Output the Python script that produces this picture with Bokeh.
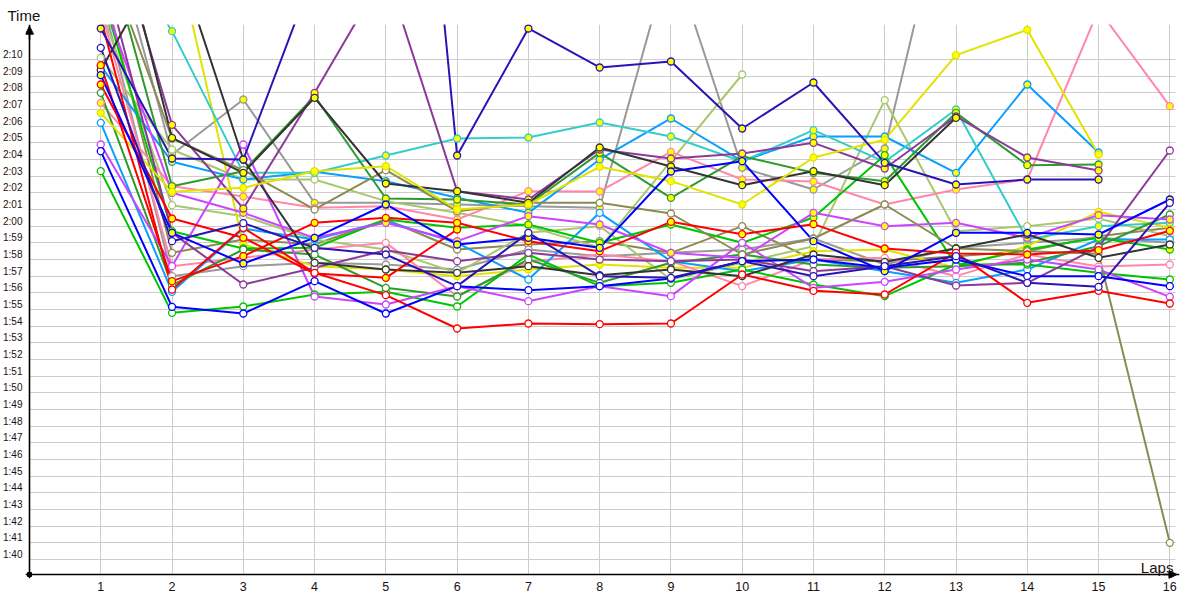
from bokeh.plotting import figure
from bokeh.models import (Range1d, FixedTicker, CustomJSTickFormatter, Label, Arrow,
                          NormalHead, Span, BoxAnnotation)
from bokeh.embed import file_html
from bokeh.resources import INLINE

laps = list(range(1, 17))
time_ticks = list(range(100, 131))  # 1:40 .. 2:10 in seconds

# lap times in seconds (values above 2:12 run off the top of the chart)
navy_a = [131.86, 124.06, 124.0, 135.3, 168.5, 124.24, 131.86, 129.52, 129.88, 125.86, 128.62, 123.8, 122.5, 122.8, 122.8]
purple_a = [140.6, 126.08, 121.06, 128.0, 135.3, 122.1, 121.6, 124.6, 124.06, 124.36, 125.0, 123.46, 126.58, 124.12, 123.34]
cyan_a = [138.5, 131.7, 123.2, 123.2, 124.24, 125.26, 125.32, 126.22, 125.38, 123.88, 125.76, 123.86, 127.0, 119.2, 120.0, 120.2]
sky_a = [129.6, 123.86, 122.8, 123.26, 122.7, 121.7, 120.8, 124.0, 126.46, 123.9, 125.38, 125.38, 123.2, 128.5, 124.42]
yellow_a = [126.8, 122.06, 122.3, 123.3, 123.6, 121.0, 121.3, 123.56, 122.7, 121.3, 124.12, 125.18, 130.26, 131.78, 124.3]
gray_a = [140.0, 124.3, 127.6, 121.4, 121.4, 121.3, 121.2, 121.1, 136.4, 123.5, 122.2, 124.66, 142.5]
dkgray_a = [142.0, 125.3, 123.2, 127.7, 122.56, 122.1, 121.4, 124.72, 123.58, 122.46, 123.3, 122.46, 126.5]
dkgray_b = [129.36, 137.0, 124.0, 117.8, 117.4, 117.2, 117.6, 117.06, 117.4, 117.0, 118.3, 117.86, 118.66, 119.5, 118.1, 118.9]
dkgreen_a = [138.0, 122.4, 123.3, 127.8, 121.66, 121.6, 121.3, 124.4, 121.7, 124.2, 123.2, 122.7, 126.8, 123.66, 123.7]
dkgreen_b = [128.0, 116.46, 118.6, 118.3, 116.3, 115.78, 118.0, 116.6, 117.8, 118.3, 117.7, 117.5, 117.6, 117.8, 118.8, 120.7]
ygreen_a = [130.1, 124.6, 122.8, 122.8, 121.5, 120.8, 120.0, 118.7, 123.9, 129.1]
ygreen_b = [133.0, 121.26, 120.6, 119.2, 118.6, 117.2, 119.6, 120.0, 116.8, 117.8, 118.8, 127.56, 119.7, 120.0, 120.46, 119.4]
red_a = [129.66, 116.7, 118.2, 120.2, 120.5, 120.2, 119.1, 118.5, 120.26, 119.52, 120.12, 118.66, 118.36, 118.3, 118.56, 119.72]
red_b = [128.5, 120.46, 119.3, 117.16, 116.9, 119.8]
red_c = [132.5, 116.2, 119.9, 117.2, 115.86, 113.86, 114.16, 114.12, 114.16, 117.1, 116.12, 115.9, 118.4, 115.4, 116.12, 115.36]
green_a = [123.3, 114.8, 115.18, 115.9, 116.06, 115.18, 118.3, 116.4, 116.6, 117.4, 116.5, 115.8, 117.7, 117.7, 117.2, 116.8]
green_b = [134.2, 119.7, 118.66, 118.7, 120.4, 119.9, 120.1, 119.0, 120.1, 119.0, 120.52, 124.26, 117.66, 118.6, 119.3, 118.6]
yellow_b = [136.0, 137.4, 118.9, 117.6, 117.4, 117.0, 117.4, 117.7, 117.5, 117.5, 118.5, 118.6, 117.5, 118.8, 120.86, 119.9]
pink_a = [127.4, 122.4, 121.78, 121.1, 121.2, 120.4, 122.1, 122.08, 124.46, 122.8, 122.68, 121.3, 122.2, 122.8, 133.0, 127.2]
pink_b = [133.0, 117.6, 118.1, 118.6, 119.0, 115.8, 117.86, 118.3, 117.9, 116.4, 118.0, 118.1, 117.0, 118.3, 117.58, 117.7]
violet_a = [124.9, 117.6, 124.9, 115.78, 115.3, 116.4, 115.5, 116.4, 115.8, 119.0, 116.3, 116.66, 117.4, 118.0, 117.4, 115.76]
violet_b = [134.0, 122.0, 120.8, 119.3, 120.2, 119.1, 120.6, 120.1, 118.4, 118.1, 120.8, 120.0, 120.2, 119.3, 120.66, 120.4]
purple_b = [136.0, 119.6, 116.5, 117.5, 118.55, 117.9, 118.4, 118.0, 117.9, 118.0, 117.3, 117.6, 116.44, 116.6, 118.74, 124.54]
navy_b = [130.7, 119.1, 120.18, 118.7, 118.3, 116.4, 119.6, 117.0, 116.9, 117.9, 117.0, 117.6, 118.2, 116.6, 116.36, 121.4]
blue_a = [124.5, 115.16, 114.76, 116.7, 114.76, 116.4, 116.16, 116.4, 116.86, 117.9, 118.0, 117.5, 118.0, 117.0, 117.0, 116.4]
blue_b = [129.06, 119.6, 117.76, 119.3, 121.3, 118.9, 119.3, 118.7, 123.28, 123.9, 119.1, 117.3, 119.6, 119.6, 119.5, 121.6]
sky_b = [126.2, 116.06, 119.86, 119.2, 120.3, 119.0, 116.8, 120.8, 117.9, 117.3, 118.0, 117.3, 116.6, 117.4, 119.2, 119.2]
olive_a = [137.0, 125.26, 123.36, 121.0, 123.36, 120.9, 121.4, 121.4, 120.76, 118.3, 119.26, 121.3, 118.66, 118.5, 118.34, 101.0]
olive_b = [135.0, 118.4, 119.2, 118.9, 120.4, 118.6, 118.9, 119.1, 118.4, 120.0, 118.0, 117.9, 118.2, 118.5, 119.4, 119.9]
gray_b = [134.0, 117.0, 117.6, 117.8, 117.7, 117.4, 118.6, 118.2, 118.4, 118.6, 119.26, 117.7, 118.7, 119.0, 119.3, 119.0]

# styles (line colour, marker fill) kept apart from the data
NAVY, PURPLE, CYAN, SKY = "#2A14B4", "#8B3A98", "#33CCCC", "#0A9EFF"
YELLOW, GRAY, DKGRAY, DKGREEN = "#E2E200", "#999999", "#333333", "#2E9A2E"
YGREEN, RED, GREEN, PINK = "#A8C86E", "#FF0000", "#00C400", "#FF88AA"
VIOLET, BLUE, OLIVE = "#CC44FF", "#0000FF", "#8C8A50"
FY, FW = "#FFFF00", "#FFFFFF"

series = [
    (gray_a, GRAY, FY), (olive_b, OLIVE, FW), (gray_b, GRAY, FW),
    (ygreen_b, YGREEN, FW), (ygreen_a, YGREEN, FW), (yellow_b, YELLOW, FY),
    (pink_b, PINK, FW), (pink_a, PINK, FY), (sky_b, SKY, FW), (sky_a, SKY, FY),
    (cyan_a, CYAN, FY), (green_a, GREEN, FW), (green_b, GREEN, FY),
    (dkgreen_b, DKGREEN, FW), (dkgreen_a, DKGREEN, FY), (violet_a, VIOLET, FW),
    (violet_b, VIOLET, FY), (purple_b, PURPLE, FW), (purple_a, PURPLE, FY),
    (olive_a, OLIVE, FW), (dkgray_b, DKGRAY, FW), (dkgray_a, DKGRAY, FY),
    (yellow_a, YELLOW, FY), (red_b, RED, FY), (red_a, RED, FY), (red_c, RED, FW),
    (blue_a, BLUE, FW), (blue_b, BLUE, FY), (navy_b, NAVY, FW), (navy_a, NAVY, FY),
]

PX_LAP = 71.27
PX_SEC = 16.667
X0 = -4 / PX_LAP                  # frame reaches 4px left of the y axis
Y_AXIS = 99.1                     # where the x axis line sits
Y0 = Y_AXIS - 4 / PX_SEC          # frame reaches 4px below the x axis
FW_PX, FH_PX = 1154, 554

p = figure(frame_width=FW_PX, frame_height=FH_PX, output_backend="svg", toolbar_location=None,
           x_range=Range1d(X0, X0 + FW_PX / PX_LAP), y_range=Range1d(Y0, Y0 + FH_PX / PX_SEC),
           min_border_left=25, min_border_right=6, min_border_top=24, min_border_bottom=18)
p.outline_line_color = None
p.background_fill_color = "white"

# title used as the "Time" axis caption
p.title.text = "Time"
p.title.align = "left"
p.title.offset = -18
p.title.standoff = 1
p.title.text_font = "Liberation Sans"
p.title.text_font_size = "15px"
p.title.text_font_style = "normal"
p.title.text_color = "#1a1010"

# axes: labels only, lines drawn as spans at the data origin
p.xaxis.ticker = FixedTicker(ticks=laps)
p.yaxis.ticker = FixedTicker(ticks=[t + 0.3 for t in time_ticks])
p.yaxis.formatter = CustomJSTickFormatter(code="""
const s = Math.round(tick - 0.3);
const m = Math.floor(s / 60);
const r = s % 60;
return m + ':' + (r < 10 ? '0' : '') + r;
""")
for ax in (p.xaxis[0], p.yaxis[0]):
    ax.axis_line_color = None
    ax.major_tick_line_color = None
    ax.minor_tick_line_color = None
    ax.major_tick_out = 0
    ax.major_tick_in = 0
    ax.major_label_text_color = "#1a1010"
p.xaxis.major_label_text_font = "Liberation Sans"
p.xaxis.major_label_text_font_size = "12.5px"
p.xaxis.major_label_standoff = 3
p.yaxis.major_label_text_font = "Liberation Sans"
p.yaxis.major_label_text_font_size = "10px"
p.yaxis.major_label_standoff = 3

p.xgrid.ticker = FixedTicker(ticks=laps)
p.ygrid.ticker = FixedTicker(ticks=time_ticks)
p.xgrid.grid_line_color = "#cccccc"
p.ygrid.grid_line_color = "#cccccc"
p.xgrid.grid_line_width = 1
p.ygrid.grid_line_width = 1

# white masks so the grid stops at the axes
p.add_layout(BoxAnnotation(left=-5, right=0, fill_color="white", fill_alpha=1, line_color=None, level="underlay"))
p.add_layout(BoxAnnotation(bottom=90, top=Y_AXIS, fill_color="white", fill_alpha=1, line_color=None, level="underlay"))
p.add_layout(BoxAnnotation(left=16.08, right=20, fill_color="white", fill_alpha=1, line_color=None, level="underlay"))

# lines first, then markers on top
for vals, col, fill in series:
    p.line(laps[:len(vals)], vals, line_color=col, line_width=2)
for vals, col, fill in series:
    p.scatter(laps[:len(vals)], vals, marker="circle", size=7, line_color=col,
              fill_color=fill, line_width=1.3)

# axis lines with arrow heads
p.add_layout(Span(location=0, dimension="height", line_color="black", line_width=1.6))
p.add_layout(Span(location=Y_AXIS, dimension="width", line_color="black", line_width=1.6))
p.add_layout(Arrow(end=NormalHead(size=8, fill_color="black", line_color="black", line_width=1),
                   x_start=0, y_start=131.2, x_end=0, y_end=132.0,
                   line_color="black", line_width=1.6))
p.add_layout(Arrow(end=NormalHead(size=8, fill_color="black", line_color="black", line_width=1),
                   x_start=15.9, y_start=Y_AXIS, x_end=16.1, y_end=Y_AXIS,
                   line_color="black", line_width=1.6))
p.scatter([0], [Y_AXIS], marker="square", size=4, fill_color="black", line_color="black")

p.add_layout(Label(x=16.05, y=99.52, text="Laps", text_font="Liberation Sans", text_align="right",
                   text_font_size="15px", text_color="#1a1010", text_baseline="alphabetic"))

open("out.html", "w").write(file_html(p, INLINE))
